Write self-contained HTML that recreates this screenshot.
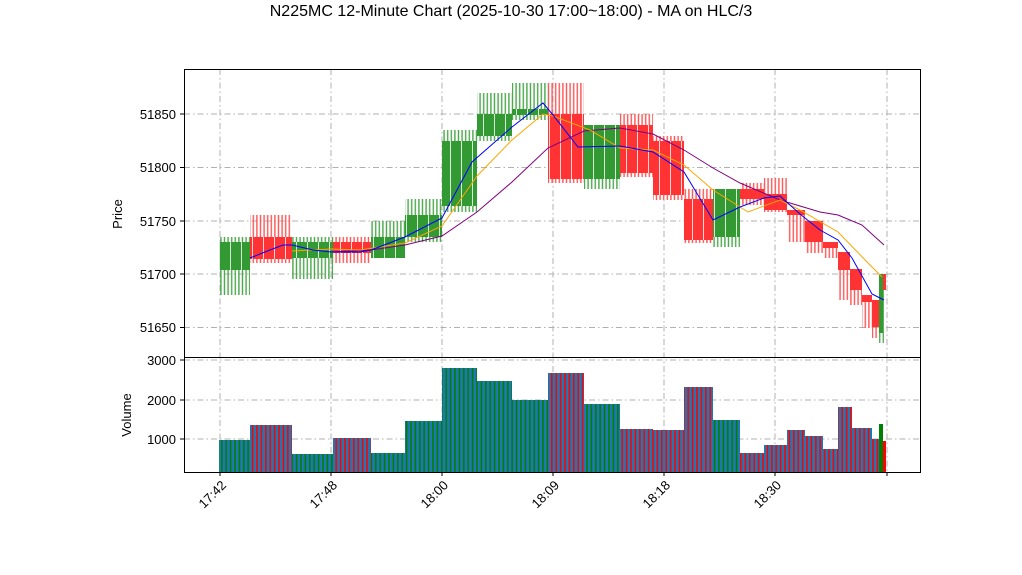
<!DOCTYPE html>
<html><head><meta charset="utf-8"><style>
body{margin:0;background:#fff;}
svg{display:block;font-family:"Liberation Sans","DejaVu Sans",sans-serif;}
</style></head><body>
<svg width="1022" height="575" viewBox="0 0 1022 575" xmlns="http://www.w3.org/2000/svg">
<defs>
<pattern id="wg" width="3.6" height="10" patternUnits="userSpaceOnUse"><rect x="0.6" width="1.4" height="10" fill="#4aa84a"/></pattern>
<pattern id="wr" width="3.6" height="10" patternUnits="userSpaceOnUse"><rect x="0.6" width="1.4" height="10" fill="#ff5555"/></pattern>
<pattern id="vg" width="4.4" height="10" patternUnits="userSpaceOnUse"><rect width="4.4" height="10" fill="#1f77b4"/><rect x="1" width="1.6" height="10" fill="#008000"/></pattern>
<pattern id="vr" width="4.4" height="10" patternUnits="userSpaceOnUse"><rect width="4.4" height="10" fill="#1f77b4"/><rect x="1" width="1.6" height="10" fill="#ff0000"/></pattern>
<pattern id="gap" x="0" width="11" height="10" patternUnits="userSpaceOnUse"><rect x="10" width="1" height="10" fill="#fff" fill-opacity="0.8"/></pattern>
</defs>
<text x="511" y="16" font-size="16" text-anchor="middle">N225MC 12-Minute Chart (2025-10-30 17:00~18:00) - MA on HLC/3</text>
<g stroke="#b0b0b0" stroke-width="1" stroke-dasharray="6,3,1.5,3">
<line x1="220" y1="69" x2="220" y2="472"/><line x1="331" y1="69" x2="331" y2="472"/>
<line x1="442" y1="69" x2="442" y2="472"/><line x1="553" y1="69" x2="553" y2="472"/>
<line x1="664" y1="69" x2="664" y2="472"/><line x1="775" y1="69" x2="775" y2="472"/>
<line x1="887" y1="69" x2="887" y2="472"/>
<line x1="184" y1="114" x2="920" y2="114"/><line x1="184" y1="167.5" x2="920" y2="167.5"/>
<line x1="184" y1="221" x2="920" y2="221"/><line x1="184" y1="274" x2="920" y2="274"/>
<line x1="184" y1="327.5" x2="920" y2="327.5"/>
<line x1="184" y1="360" x2="920" y2="360"/><line x1="184" y1="400" x2="920" y2="400"/><line x1="184" y1="439" x2="920" y2="439"/>
</g>
<g>
<rect x="219" y="237" width="31" height="58" fill="url(#wg)"/>
<rect x="250" y="215" width="42" height="48" fill="url(#wr)"/>
<rect x="292" y="237" width="41" height="42" fill="url(#wg)"/>
<rect x="333" y="237" width="38" height="26" fill="url(#wr)"/>
<rect x="371" y="221" width="34" height="37" fill="url(#wg)"/>
<rect x="405" y="199" width="37" height="43" fill="url(#wg)"/>
<rect x="442" y="130" width="35" height="82" fill="url(#wg)"/>
<rect x="477" y="93" width="35" height="48" fill="url(#wg)"/>
<rect x="512" y="83" width="36" height="37" fill="url(#wg)"/>
<rect x="548" y="83" width="36" height="100" fill="url(#wr)"/>
<rect x="584" y="125" width="36" height="64" fill="url(#wg)"/>
<rect x="620" y="114" width="33" height="63" fill="url(#wr)"/>
<rect x="653" y="136" width="31" height="64" fill="url(#wr)"/>
<rect x="684" y="189" width="29" height="54" fill="url(#wr)"/>
<rect x="713" y="189" width="27" height="58" fill="url(#wg)"/>
<rect x="740" y="183" width="24" height="22" fill="url(#wr)"/>
<rect x="764" y="178" width="23" height="34" fill="url(#wr)"/>
<rect x="787" y="210" width="18" height="32" fill="url(#wr)"/>
<rect x="805" y="221" width="18" height="32" fill="url(#wr)"/>
<rect x="823" y="242" width="15" height="16" fill="url(#wr)"/>
<rect x="838" y="252" width="12" height="48" fill="url(#wr)"/>
<rect x="850" y="269" width="12" height="36" fill="url(#wr)"/>
<rect x="862" y="295" width="10" height="33" fill="url(#wr)"/>
<rect x="872" y="300" width="7" height="38" fill="url(#wr)"/>
<rect x="879" y="274" width="5" height="69" fill="url(#wg)"/>
</g>
<g id="bodies">
<rect x="219" y="242" width="31" height="28" fill="#339933"/>
<rect x="250" y="237" width="42" height="22" fill="#ff3333"/>
<rect x="292" y="242" width="41" height="16" fill="#339933"/>
<rect x="333" y="242" width="38" height="11" fill="#ff3333"/>
<rect x="371" y="237" width="34" height="21" fill="#339933"/>
<rect x="405" y="215" width="37" height="22" fill="#339933"/>
<rect x="442" y="141" width="35" height="65" fill="#339933"/>
<rect x="477" y="114" width="35" height="22" fill="#339933"/>
<rect x="512" y="109" width="36" height="6" fill="#339933"/>
<rect x="548" y="114" width="36" height="65" fill="#ff3333"/>
<rect x="584" y="125" width="36" height="54" fill="#339933"/>
<rect x="620" y="125" width="33" height="48" fill="#ff3333"/>
<rect x="653" y="141" width="31" height="54" fill="#ff3333"/>
<rect x="684" y="199" width="29" height="41" fill="#ff3333"/>
<rect x="713" y="189" width="27" height="48" fill="#339933"/>
<rect x="740" y="189" width="24" height="10" fill="#ff3333"/>
<rect x="764" y="194" width="23" height="16" fill="#ff3333"/>
<rect x="787" y="210" width="18" height="5" fill="#ff3333"/>
<rect x="805" y="221" width="18" height="21" fill="#ff3333"/>
<rect x="823" y="242" width="15" height="6" fill="#ff3333"/>
<rect x="838" y="252" width="12" height="18" fill="#ff3333"/>
<rect x="850" y="269" width="12" height="21" fill="#ff3333"/>
<rect x="862" y="295" width="10" height="7" fill="#ff3333"/>
<rect x="872" y="300" width="7" height="27" fill="#ff3333"/>
<rect x="879" y="274" width="4" height="59" fill="#339933"/>
<rect x="883" y="274" width="3" height="16" fill="#ff3333"/>
</g>
<g fill="url(#gap)">
<rect x="219" y="242" width="31" height="28"/><rect x="250" y="237" width="42" height="22"/>
<rect x="292" y="242" width="41" height="16"/><rect x="333" y="242" width="38" height="11"/>
<rect x="371" y="237" width="34" height="21"/><rect x="405" y="215" width="37" height="22"/>
<rect x="442" y="141" width="35" height="65"/><rect x="477" y="114" width="35" height="22"/>
<rect x="512" y="109" width="36" height="6"/><rect x="548" y="114" width="36" height="65"/>
<rect x="584" y="125" width="36" height="54"/><rect x="620" y="125" width="33" height="48"/>
<rect x="653" y="141" width="31" height="54"/><rect x="684" y="199" width="29" height="41"/>
<rect x="713" y="189" width="27" height="48"/>
</g>
<polyline fill="none" stroke="#800080" stroke-width="1" points="331,252 371,250 405,245 442,236 477,212 512,182 548,148 584,131 620,128 653,134 684,150 713,168 740,183 780,200 820,212 838,215 862,225 884,245"/>
<polyline fill="none" stroke="#ffa500" stroke-width="1" points="292,251 331,249 360,250 405,243 442,226 477,176 512,140 543,114 553,116 590,130 620,148 653,150 684,165 713,190 748,212 780,200 800,210 838,232 870,265 882,277"/>
<polyline fill="none" stroke="#0000ff" stroke-width="1" points="250,258 270,250 283,245 292,245 313,250 331,252 360,252 371,250 405,237 442,218 472,162 512,127 543,103 553,115 578,147 620,146 653,152 684,172 713,220 740,207 764,198 780,196 800,214 820,230 838,240 852,258 872,294 884,300"/>
<g>
<rect x="219" y="440" width="31" height="32" fill="url(#vg)"/>
<rect x="250" y="425" width="42" height="47" fill="url(#vr)"/>
<rect x="292" y="454" width="41" height="18" fill="url(#vg)"/>
<rect x="333" y="438" width="38" height="34" fill="url(#vr)"/>
<rect x="371" y="453" width="34" height="19" fill="url(#vg)"/>
<rect x="405" y="421" width="37" height="51" fill="url(#vg)"/>
<rect x="442" y="368" width="35" height="104" fill="url(#vg)"/>
<rect x="477" y="381" width="35" height="91" fill="url(#vg)"/>
<rect x="512" y="400" width="36" height="72" fill="url(#vg)"/>
<rect x="548" y="373" width="36" height="99" fill="url(#vr)"/>
<rect x="584" y="404" width="36" height="68" fill="url(#vg)"/>
<rect x="620" y="429" width="33" height="43" fill="url(#vr)"/>
<rect x="653" y="430" width="31" height="42" fill="url(#vr)"/>
<rect x="684" y="387" width="29" height="85" fill="url(#vr)"/>
<rect x="713" y="420" width="27" height="52" fill="url(#vg)"/>
<rect x="740" y="453" width="24" height="19" fill="url(#vr)"/>
<rect x="764" y="445" width="23" height="27" fill="url(#vr)"/>
<rect x="787" y="430" width="18" height="42" fill="url(#vr)"/>
<rect x="805" y="436" width="18" height="36" fill="url(#vr)"/>
<rect x="823" y="449" width="15" height="23" fill="url(#vr)"/>
<rect x="838" y="407" width="14" height="65" fill="url(#vr)"/>
<rect x="852" y="428" width="20" height="44" fill="url(#vr)"/>
<rect x="872" y="439" width="7" height="33" fill="url(#vr)"/>
<rect x="879" y="424" width="4" height="48" fill="#008000"/>
<rect x="883" y="441" width="3" height="31" fill="#ff0000"/>
</g>
<rect x="184.5" y="69.5" width="736" height="288" fill="none" stroke="#000" stroke-width="1"/>
<rect x="184.5" y="357.5" width="736" height="115" fill="none" stroke="#000" stroke-width="1"/>
<g stroke="#000" stroke-width="1">
<line x1="180" y1="114" x2="184" y2="114"/><line x1="180" y1="167.5" x2="184" y2="167.5"/>
<line x1="180" y1="221" x2="184" y2="221"/><line x1="180" y1="274" x2="184" y2="274"/>
<line x1="180" y1="327.5" x2="184" y2="327.5"/>
<line x1="180" y1="360" x2="184" y2="360"/><line x1="180" y1="400" x2="184" y2="400"/><line x1="180" y1="439" x2="184" y2="439"/>
<line x1="220" y1="472" x2="220" y2="476"/><line x1="331" y1="472" x2="331" y2="476"/>
<line x1="442" y1="472" x2="442" y2="476"/><line x1="553" y1="472" x2="553" y2="476"/>
<line x1="664" y1="472" x2="664" y2="476"/><line x1="775" y1="472" x2="775" y2="476"/>
<line x1="887" y1="472" x2="887" y2="476"/>
</g>
<g font-size="13" text-anchor="end">
<text x="176" y="119">51850</text><text x="176" y="172">51800</text><text x="176" y="226">51750</text>
<text x="176" y="279">51700</text><text x="176" y="332">51650</text>
<text x="176" y="365">3000</text><text x="176" y="405">2000</text><text x="176" y="444">1000</text>
</g>
<text transform="translate(122,214) rotate(-90)" font-size="13" text-anchor="middle">Price</text>
<text transform="translate(131,415) rotate(-90)" font-size="13" text-anchor="middle">Volume</text>
<g font-size="13" text-anchor="end">
<text transform="translate(227,486) rotate(-45)">17:42</text>
<text transform="translate(338,486) rotate(-45)">17:48</text>
<text transform="translate(449,486) rotate(-45)">18:00</text>
<text transform="translate(560,486) rotate(-45)">18:09</text>
<text transform="translate(671,486) rotate(-45)">18:18</text>
<text transform="translate(782,486) rotate(-45)">18:30</text>
</g>
</svg>
</body></html>
